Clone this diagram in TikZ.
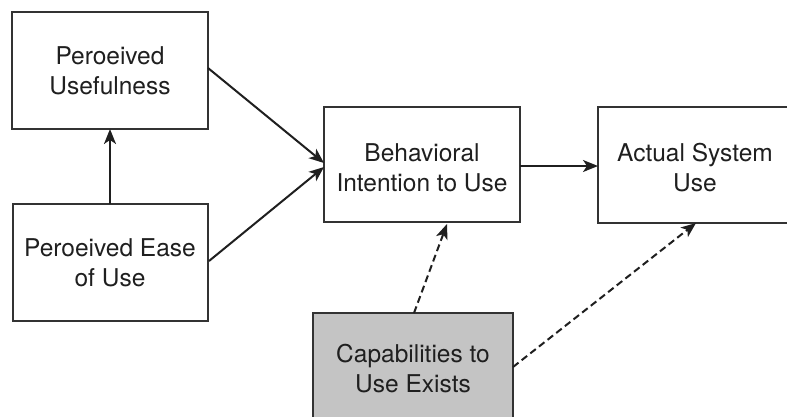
\documentclass[tikz,border=0pt]{standalone}
\usepackage{fontspec}
\setmainfont{TeX Gyre Heros}
\usetikzlibrary{arrows.meta}
\begin{document}
\begin{tikzpicture}[x=1pt,y=-1pt,
  box/.style={draw=black!80,line width=2pt,fill=white},
  lbl/.style={align=center,font=\fontsize{24.5}{30}\selectfont,text=black!88},
  arr/.style={draw=black!88,line width=2pt,-{Stealth[length=15pt,width=12pt,inset=4pt]}},
  darr/.style={arr,dash pattern=on 7pt off 4pt}]
\useasboundingbox (0,0) rectangle (787,416);
\clip (0,0) rectangle (787,416);
\draw[box] (12,12) rectangle (208,129);
\node[lbl] (pu) at (110,71) {Peroeived\\Usefulness};
\coordinate (puB) at (110,129);
\coordinate (puR) at (208,68);
\draw[box] (13,204) rectangle (208,321);
\node[lbl] (peou) at (110,263) {Peroeived Ease\\of Use};
\coordinate (peouT) at (110,204);
\coordinate (peouR) at (209,261);
\draw[box] (324,107) rectangle (520,222);
\node[lbl] (bi) at (422,168) {Behavioral\\Intention to Use};
\coordinate (biL1) at (324,163);
\coordinate (biL2) at (324,167);
\coordinate (biR) at (520,166);
\coordinate (biB) at (447,224);
\draw[box] (598,107) rectangle (800,223);
\node[lbl] (asu) at (695,168) {Actual System\\Use};
\coordinate (asuL) at (598,166);
\coordinate (asuB) at (696,223);
\draw[box,fill=black!23] (313,313) rectangle (513,430);
\node[lbl] (cap) at (413,369) {Capabilities to\\Use Exists};
\coordinate (capT) at (414,313);
\coordinate (capR) at (513,367);
\draw[arr] (peouT) -- (puB);
\draw[arr] (puR) -- (biL1);
\draw[arr] (peouR) -- (biL2);
\draw[arr] (biR) -- (asuL);
\draw[darr] (capT) -- (biB);
\draw[darr] (capR) -- (asuB);
\end{tikzpicture}
\end{document}
